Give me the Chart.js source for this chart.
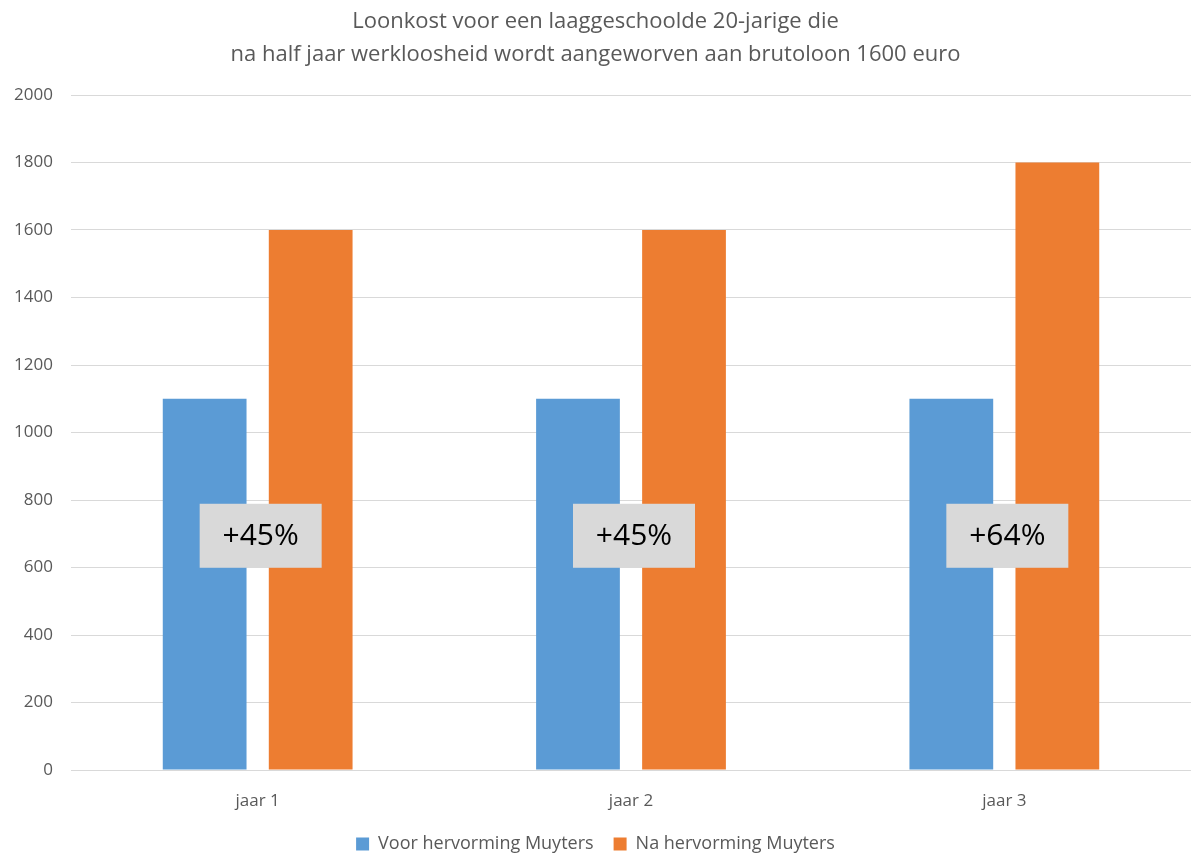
<!DOCTYPE html>
<html>
<head>
<meta charset="utf-8">
<script src="https://cdn.jsdelivr.net/npm/chart.js@4.4.0/dist/chart.umd.min.js"></script>
<style>
  html, body { margin: 0; padding: 0; background: #fff; }
  #wrap { width: 1191px; height: 853px; }
</style>
</head>
<body>
<div id="wrap"><canvas id="chart"></canvas></div>
<script>
const categories = ['jaar 1', 'jaar 2', 'jaar 3'];
const voorValues = [1100, 1100, 1100];
const naValues = [1600, 1600, 1800];
const pctLabels = ['+45%', '+45%', '+64%'];
const titleLines = [
  'Loonkost voor een laaggeschoolde 20-jarige die',
  'na half jaar werkloosheid wordt aangeworven aan brutoloon 1600 euro'
];

const FONT = "'Open Sans', 'DejaVu Sans', sans-serif";

// grijze vakjes met het procentuele verschil
const pctBoxes = {
  id: 'pctBoxes',
  afterDatasetsDraw(chart) {
    const ctx = chart.ctx;
    const x = chart.scales.x, y = chart.scales.y;
    ctx.save();
    pctLabels.forEach((txt, i) => {
      const cx = x.getPixelForValue(i) + 3;
      const cy = y.getPixelForValue(694);
      ctx.fillStyle = '#d9d9d9';
      ctx.fillRect(cx - 61, cy - 32, 122, 64);
      ctx.fillStyle = '#000';
      ctx.font = '30px ' + FONT;
      ctx.textAlign = 'center';
      ctx.textBaseline = 'middle';
      ctx.fillText(txt, cx, cy + 1);
    });
    ctx.restore();
  }
};

new Chart(document.getElementById('chart'), {
  type: 'bar',
  data: {
    labels: categories,
    datasets: [
      { label: 'Voor hervorming Muyters', data: voorValues, backgroundColor: '#5b9bd5' },
      { label: 'Na hervorming Muyters', data: naValues, backgroundColor: '#ed7d31' }
    ]
  },
  options: {
    responsive: true,
    maintainAspectRatio: false,
    animation: false,
    datasets: { bar: { categoryPercentage: 0.568, barPercentage: 0.79 } },
    layout: { padding: { left: 0, right: 0, top: 5, bottom: -10 } },
    plugins: {
      title: {
        display: true,
        text: titleLines,
        color: '#595959',
        font: { family: FONT, size: 22, weight: 'normal', lineHeight: 1.5 },
        padding: { top: 0, bottom: 24 }
      },
      legend: {
        position: 'bottom',
        labels: {
          color: '#595959',
          font: { family: FONT, size: 18 },
          boxWidth: 13,
          boxHeight: 13,
          padding: 20
        }
      },
      tooltip: { enabled: false }
    },
    scales: {
      x: {
        afterFit(scale) { scale.height = 45; },
        grid: { display: false },
        border: { display: true, color: '#d9d9d9' },
        ticks: { color: '#595959', font: { family: FONT, size: 17 }, padding: 13 }
      },
      y: {
        min: 0,
        max: 2000,
        afterFit(scale) { scale.width = 71; },
        grid: { color: '#d9d9d9', drawTicks: false },
        border: { display: false },
        ticks: {
          stepSize: 200,
          color: '#595959',
          font: { family: FONT, size: 17 },
          padding: 18,
          callback: v => String(v)
        }
      }
    }
  },
  plugins: [pctBoxes]
});
</script>
</body>
</html>
